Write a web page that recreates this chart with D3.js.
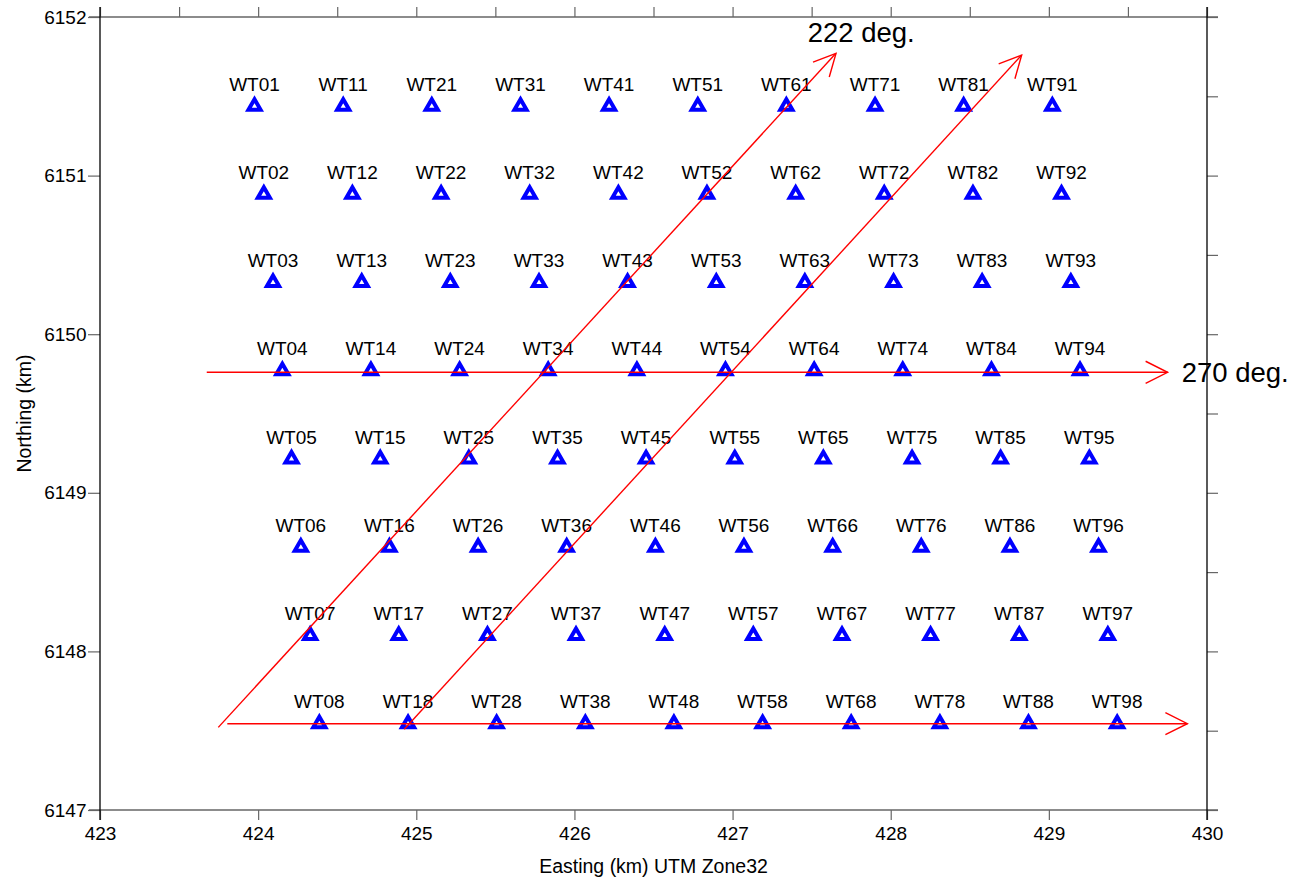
<!DOCTYPE html>
<html><head><meta charset="utf-8">
<script src="https://cdn.jsdelivr.net/npm/d3@7"></script>
<style>
body{margin:0;background:#fff}
svg{display:block}
text{font-family:"Liberation Sans",Arial,Helvetica,sans-serif;fill:#000}
</style>
</head><body>
<svg id="chart" width="1290" height="879"></svg>
<script>
// ---- data (km, UTM zone 32) ----
const turbineNames = [
  "WT01","WT02","WT03","WT04","WT05","WT06","WT07","WT08",
  "WT11","WT12","WT13","WT14","WT15","WT16","WT17","WT18",
  "WT21","WT22","WT23","WT24","WT25","WT26","WT27","WT28",
  "WT31","WT32","WT33","WT34","WT35","WT36","WT37","WT38",
  "WT41","WT42","WT43","WT44","WT45","WT46","WT47","WT48",
  "WT51","WT52","WT53","WT54","WT55","WT56","WT57","WT58",
  "WT61","WT62","WT63","WT64","WT65","WT66","WT67","WT68",
  "WT71","WT72","WT73","WT74","WT75","WT76","WT77","WT78",
  "WT81","WT82","WT83","WT84","WT85","WT86","WT87","WT88",
  "WT91","WT92","WT93","WT94","WT95","WT96","WT97","WT98"
];
const eastingKm = [
  423.977,424.036,424.094,424.153,424.211,424.270,424.329,424.387,
  424.538,424.596,424.655,424.713,424.772,424.830,424.889,424.948,
  425.098,425.157,425.215,425.274,425.332,425.391,425.450,425.508,
  425.659,425.717,425.776,425.834,425.893,425.951,426.010,426.069,
  426.219,426.278,426.336,426.395,426.453,426.512,426.571,426.629,
  426.780,426.838,426.897,426.955,427.014,427.072,427.131,427.190,
  427.340,427.399,427.457,427.516,427.574,427.633,427.692,427.750,
  427.901,427.959,428.018,428.076,428.135,428.193,428.252,428.311,
  428.461,428.520,428.578,428.637,428.695,428.754,428.813,428.871,
  429.022,429.080,429.139,429.197,429.256,429.314,429.373,429.432
];
const northingKm = [
  6151.438,6150.882,6150.326,6149.770,6149.213,6148.657,6148.101,6147.544,
  6151.438,6150.882,6150.326,6149.770,6149.213,6148.657,6148.101,6147.544,
  6151.438,6150.882,6150.326,6149.770,6149.213,6148.657,6148.101,6147.544,
  6151.438,6150.882,6150.326,6149.770,6149.213,6148.657,6148.101,6147.544,
  6151.438,6150.882,6150.326,6149.770,6149.213,6148.657,6148.101,6147.544,
  6151.438,6150.882,6150.326,6149.770,6149.213,6148.657,6148.101,6147.544,
  6151.438,6150.882,6150.326,6149.770,6149.213,6148.657,6148.101,6147.544,
  6151.438,6150.882,6150.326,6149.770,6149.213,6148.657,6148.101,6147.544,
  6151.438,6150.882,6150.326,6149.770,6149.213,6148.657,6148.101,6147.544,
  6151.438,6150.882,6150.326,6149.770,6149.213,6148.657,6148.101,6147.544
];

// wind-direction arrows (start -> tip)
const arrowStartX = [423.748, 424.924, 423.675, 423.805];
const arrowStartY = [6147.521, 6147.509, 6149.760, 6147.544];
const arrowEndX   = [427.654, 428.828, 429.751, 429.876];
const arrowEndY   = [6151.771, 6151.760, 6149.760, 6147.544];

const arrowLabels = ["222 deg.", "270 deg."];
const arrowLabelX = [427.475, 429.840];
const arrowLabelY = [6151.844, 6149.697];

const xTickValues = [423, 424, 425, 426, 427, 428, 429, 430];
const yTickValues = [6147, 6148, 6149, 6150, 6151, 6152];
const xTopTickValues = [423, 423.5, 424, 424.5, 425, 425.5, 426, 426.5, 427, 427.5, 428, 428.5, 429, 429.5, 430];
const yRightTickValues = [6147, 6147.5, 6148, 6148.5, 6149, 6149.5, 6150, 6150.5, 6151, 6151.5, 6152];

const xTitle = "Easting (km) UTM Zone32";
const yTitle = "Northing (km)";

// ---- drawing ----
const svg = d3.select("#chart");
const x = d3.scaleLinear().domain([423, 430]).range([100, 1207]);
const y = d3.scaleLinear().domain([6147, 6152]).range([810, 17]);
const TK = 11;
const axisGrey = "#666";

function styleAxis(g){
  g.select(".domain").remove();
  g.selectAll(".tick line").attr("stroke", axisGrey).attr("stroke-width", 1.2);
  g.selectAll(".tick text").style("font-size", "19px").attr("fill", "#000");
}

svg.append("g").attr("transform", `translate(0,${y(6147)})`)
  .call(d3.axisBottom(x).tickValues(xTickValues).tickSize(10).tickPadding(7).tickFormat(d3.format("d")))
  .call(styleAxis);
svg.append("g").attr("transform", `translate(${x(423)},0)`)
  .call(d3.axisLeft(y).tickValues(yTickValues).tickSize(12).tickPadding(1.5).tickFormat(d3.format("d")))
  .call(styleAxis);
svg.append("g").attr("transform", `translate(0,${y(6152)})`)
  .call(d3.axisTop(x).tickValues(xTopTickValues).tickSize(10).tickFormat(""))
  .call(styleAxis);
svg.append("g").attr("transform", `translate(${x(430)},0)`)
  .call(d3.axisRight(y).tickValues(yRightTickValues).tickSize(TK).tickFormat(""))
  .call(styleAxis);

// frame lines
const [x0, x1] = x.range();
const [yb, yt] = y.range();
svg.append("line").attr("x1", x0 - TK).attr("x2", x1 + TK).attr("y1", yt).attr("y2", yt)
  .attr("stroke", axisGrey).attr("stroke-width", 1.3);
svg.append("line").attr("x1", x0 - TK).attr("x2", x1 + TK).attr("y1", yb).attr("y2", yb)
  .attr("stroke", axisGrey).attr("stroke-width", 1.3);
svg.append("line").attr("x1", x0).attr("x2", x0).attr("y1", yt - 10).attr("y2", yb + 10)
  .attr("stroke", "#000").attr("stroke-width", 1.3);
svg.append("line").attr("x1", x1).attr("x2", x1).attr("y1", yt - 10).attr("y2", yb + 10)
  .attr("stroke", "#000").attr("stroke-width", 1.3);

// axis titles
svg.append("text").attr("x", (x0 + x1) / 2).attr("y", 872.5)
  .attr("text-anchor", "middle").style("font-size", "19.5px").text(xTitle);
svg.append("text").attr("transform", `translate(31,${(yb + yt) / 2}) rotate(-90)`)
  .attr("text-anchor", "middle").style("font-size", "19.5px").text(yTitle);

// turbines
const turbines = turbineNames.map((n, i) => ({name: n, e: eastingKm[i], n: northingKm[i]}));
const tri = "M0,-7L6.06,3.5L-6.06,3.5Z";
svg.append("g").selectAll("path").data(turbines).join("path")
  .attr("d", tri)
  .attr("transform", d => `translate(${x(d.e)},${y(d.n)})`)
  .attr("fill", "none").attr("stroke", "#0000ff").attr("stroke-width", 4)
  .attr("stroke-linejoin", "miter");
svg.append("g").selectAll("text").data(turbines).join("text")
  .attr("x", d => x(d.e)).attr("y", d => y(d.n) - 15.4)
  .attr("text-anchor", "middle").style("font-size", "19px").text(d => d.name);

// arrows
const arrows = arrowStartX.map((v, i) => ({
  x1: x(v), y1: y(arrowStartY[i]), x2: x(arrowEndX[i]), y2: y(arrowEndY[i])
}));
const ag = svg.append("g").attr("stroke", "#ff0000").attr("stroke-width", 1.4).attr("fill", "none");
arrows.forEach(a => {
  ag.append("line").attr("x1", a.x1).attr("y1", a.y1).attr("x2", a.x2).attr("y2", a.y2);
  const ang = Math.atan2(a.y2 - a.y1, a.x2 - a.x1);
  const L = 24.6, h = 26.6 * Math.PI / 180;
  const p1 = [a.x2 - L * Math.cos(ang - h), a.y2 - L * Math.sin(ang - h)];
  const p2 = [a.x2 - L * Math.cos(ang + h), a.y2 - L * Math.sin(ang + h)];
  ag.append("path").attr("d", `M${p1[0]},${p1[1]}L${a.x2},${a.y2}L${p2[0]},${p2[1]}`);
});

svg.append("g").selectAll("text").data(arrowLabels).join("text")
  .attr("x", (d, i) => x(arrowLabelX[i])).attr("y", (d, i) => y(arrowLabelY[i]))
  .style("font-size", "27.5px").text(d => d);
</script>
</body></html>
